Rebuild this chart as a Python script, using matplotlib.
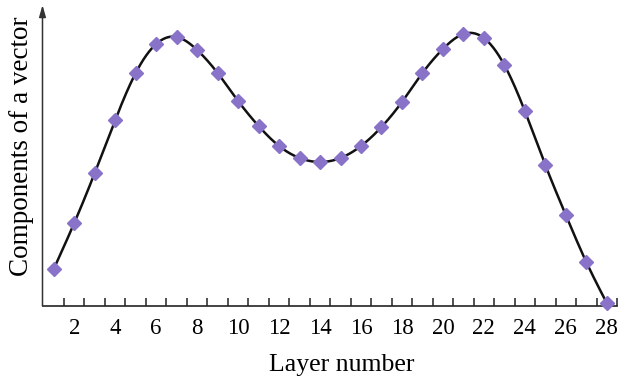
import numpy as np
import matplotlib
matplotlib.use("Agg")
import matplotlib.pyplot as plt

layers = list(range(1, 29))
components = [37, 83, 133, 186, 233, 262, 269, 256, 233, 205, 180, 160, 148, 144,
              148, 160, 179, 204, 233, 257, 272, 268, 241, 195, 141, 91, 44, 3]
tick_labels = [str(v) for v in range(2, 29, 2)]

plt.rcParams['font.family'] = ['Liberation Serif', 'DejaVu Serif']

W, H = 629, 382
fig = plt.figure(figsize=(W / 100, H / 100), dpi=100)
left, right, bottom, top = 42.5, 617, 306, 5
ax = fig.add_axes([left / W, 1 - bottom / H, (right - left) / W, (bottom - top) / H])


def natural_spline(x, y, n=1000):
    x = np.asarray(x, float)
    y = np.asarray(y, float)
    m = len(x)
    h = np.diff(x)
    A = np.zeros((m, m))
    b = np.zeros(m)
    A[0, 0] = A[-1, -1] = 1
    for i in range(1, m - 1):
        A[i, i - 1] = h[i - 1]
        A[i, i] = 2 * (h[i - 1] + h[i])
        A[i, i + 1] = h[i]
        b[i] = 6 * ((y[i + 1] - y[i]) / h[i] - (y[i] - y[i - 1]) / h[i - 1])
    M = np.linalg.solve(A, b)
    xs = np.linspace(x[0], x[-1], n)
    idx = np.clip(np.searchsorted(x, xs) - 1, 0, m - 2)
    x0, x1 = x[idx], x[idx + 1]
    hh = x1 - x0
    t0 = x1 - xs
    t1 = xs - x0
    ys = (M[idx] * t0 ** 3 + M[idx + 1] * t1 ** 3) / (6 * hh) \
        + (y[idx] / hh - M[idx] * hh / 6) * t0 \
        + (y[idx + 1] / hh - M[idx + 1] * hh / 6) * t1
    return xs, ys


xs, ys = natural_spline(layers, components)
ax.plot(xs, ys, color='#111111', lw=1.8, zorder=2, clip_on=False)
ax.plot(layers, components, linestyle='none', marker='D', ms=7.5,
        color='#8873c9', mec='#8873c9', zorder=3, clip_on=False)

ax.set_xlim(0.45, 28.5)
ax.set_ylim(0, 301)

for s in ['top', 'right', 'left']:
    ax.spines[s].set_visible(False)
ax.spines['bottom'].set_color('#222222')
ax.spines['bottom'].set_linewidth(1.2)

ax.annotate('', xy=(0, 1.0), xytext=(0, 0), xycoords='axes fraction',
            arrowprops=dict(arrowstyle='-|>,head_length=0.7,head_width=0.2',
                            color='#333333', lw=1.1, shrinkA=0, shrinkB=0))

ax.set_yticks([])
ax.set_xticks(range(2, 29, 2))
ax.set_xticklabels(tick_labels, fontsize=16.5)
ax.tick_params(axis='x', which='major', length=0, pad=9)
ax.set_xticks(np.arange(1.5, 28.6, 1.0), minor=True)
ax.tick_params(axis='x', which='minor', direction='in', length=6, width=1.1, color='#222222')

fig.text(342 / W, 1 - 371.5 / H, 'Layer number', fontsize=18.5,
         ha='center', va='baseline')
fig.text(22 / W, 1 - 146 / H, 'Components of a vector', fontsize=19.5,
         ha='center', va='center', rotation=90)

fig.savefig('out.png', dpi=100)
